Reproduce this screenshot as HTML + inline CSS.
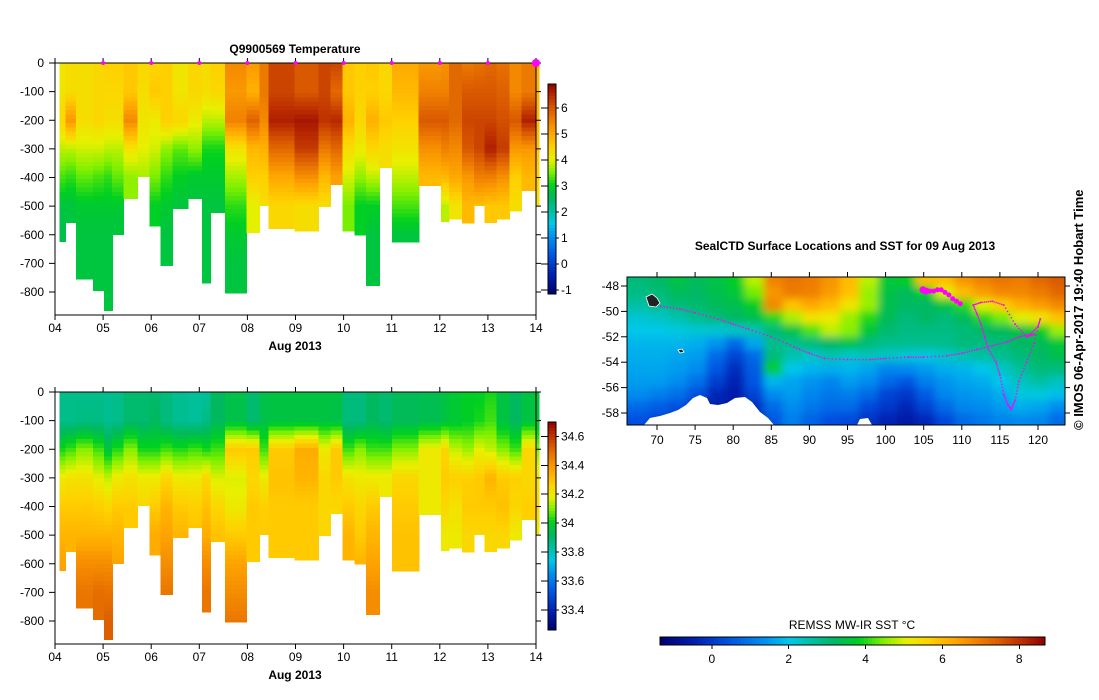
<!DOCTYPE html>
<html><head><meta charset="utf-8">
<style>
html,body{margin:0;padding:0;background:#fff;}
svg{display:block;font-family:"Liberation Sans",sans-serif;}
text{fill:#000;}
</style></head>
<body>
<svg id="s" width="1099" height="700" viewBox="0 0 1099 700" xmlns="http://www.w3.org/2000/svg">
<defs>
<filter id="blur" filterUnits="userSpaceOnUse" x="600" y="250" width="500" height="200"><feGaussianBlur stdDeviation="4"/></filter>
<clipPath id="mapclip"><rect x="627" y="277" width="438" height="148"/></clipPath>
</defs>
<g id="gT"></g>
<g id="gS"></g>
<g id="gM"></g>
</svg>
<script>
// ---- section data ----
const colEdges=[4.09,4.22,4.44,4.79,5.02,5.19,5.42,5.71,5.96,6.19,6.44,6.76,7.06,7.23,7.53,7.98,8.25,8.44,8.98,9.48,9.73,9.98,10.23,10.47,10.74,11.01,11.56,12.02,12.19,12.46,12.71,12.93,13.18,13.45,13.70,14.00,14.06];
const colBottoms=[623,557,755,794,864,599,473,397,569,707,508,473,769,522,803,591,498,578,587,501,424,587,601,777,365,626,428,553,545,559,498,557,545,516,446,498];
const profileDepths=[0,100,200,300,400,500,600,700,800];
const tempProfiles=[
[4.2,4.2,4.4,3.8,3.3,2.8,2.7],[4.3,4.3,5.2,3.8,3.2,2.8],[4.3,4.3,4.3,3.9,3.4,2.9,2.8,2.8],[4.4,4.4,4.4,3.9,3.3,2.9,2.8,2.8],
[4.5,4.4,4.3,3.8,3.2,2.9,2.8,2.8,2.8],[4.5,4.4,4.3,3.8,3.4,2.9,2.8],[4.6,4.6,5.4,4.2,3.6],[4.4,4.3,4.2,4.0,3.7],
[4.4,4.6,4.1,3.9,3.5,3.0],[4.5,4.5,4.5,3.6,3.2,2.9,2.8,2.8],[4.2,4.2,4.4,3.4,3.0,2.8],[4.4,4.4,4.1,3.6,2.9,2.8],
[4.3,4.3,3.8,3.1,2.9,2.8,2.8,2.8],[4.5,4.4,3.8,3.1,2.9,2.8],[5.4,5.2,5.5,4.2,3.7,3.2,2.9,2.8,2.8],[5.2,4.9,5.9,4.8,4.5,4.0],
[5.6,5.6,5.4,4.9,4.5,4.3],[6.2,6.2,6.6,5.8,5.0,4.4],[6.0,6.0,6.7,6.3,5.3,4.3],[6.2,6.2,6.4,5.6,4.8,4.3],
[6.2,5.8,6.5,5.8,5.1],[4.6,4.6,4.9,4.3,3.9,3.5],[4.5,4.5,4.4,4.1,3.6,3.0,3.0],[4.6,4.5,4.9,4.4,3.8,3.0,2.8,2.8],
[4.4,4.4,4.6,4.3],[5.0,4.8,4.5,4.2,3.8,3.3,2.8],[5.2,5.5,6.0,5.3,4.8],[5.3,5.5,6.0,5.5,4.8,3.8],
[5.8,5.8,5.8,5.4,5.0,4.2],[5.6,6.0,6.2,6.0,5.2,4.8],[5.7,6.0,6.2,6.2,5.5,4.7],[5.8,6.0,6.2,6.6,5.5,4.6],
[5.7,5.9,6.1,6.3,5.3,4.6],[5.4,5.4,6.0,5.2,4.5,4.3],[5.6,5.6,6.6,5.2,4.8],[4.8,4.8,4.8,4.6,4.4,4.2]];
const salProfiles=[
[33.86,33.86,34.02,34.2,34.28,34.33,34.37],[33.86,33.86,34.05,34.22,34.28,34.33],[33.86,33.87,34.1,34.22,34.28,34.33,34.42,34.47],[33.86,33.87,34.05,34.18,34.27,34.33,34.42,34.49],
[33.85,33.85,33.97,34.15,34.25,34.33,34.42,34.48,34.52],[33.86,33.86,34.03,34.2,34.28,34.33,34.37],[33.9,33.9,34.1,34.22,34.28],[33.9,33.9,34.02,34.2,34.25],
[33.9,33.92,34.02,34.2,34.28,34.35],[33.88,33.88,34.05,34.25,34.33,34.37,34.42,34.47],[33.85,33.85,34.03,34.2,34.28,34.33],[33.84,33.84,34.05,34.2,34.27,34.3],
[33.84,33.87,34.02,34.25,34.3,34.35,34.42,34.47],[33.92,33.92,34.05,34.17,34.25,34.3],[33.95,33.95,34.28,34.17,34.2,34.28,34.37,34.42,34.47],[33.9,33.9,34.28,34.25,34.28,34.28],
[33.95,33.95,34.05,34.2,34.27,34.28],[33.96,33.96,34.28,34.3,34.28,34.28],[33.96,33.96,34.35,34.33,34.28,34.28],[33.96,33.96,34.2,34.25,34.25,34.25],
[33.96,33.95,34.28,34.28,34.25],[33.88,33.88,34.05,34.22,34.28,34.33],[33.88,33.88,34.1,34.2,34.25,34.28,34.33],[33.92,33.92,34.05,34.2,34.28,34.33,34.37,34.42],
[33.9,33.9,34.05,34.2],[33.93,33.93,34.1,34.25,34.28,34.3,34.3],[33.94,33.94,34.2,34.2,34.2],[33.96,33.96,34.25,34.28,34.25,34.2],
[33.98,33.98,34.15,34.27,34.22,34.2],[34.0,34.0,34.12,34.27,34.28,34.25],[34.0,34.02,34.18,34.28,34.28,34.25],[34.02,34.05,34.15,34.33,34.28,34.25],
[33.96,33.96,34.1,34.28,34.3,34.25],[33.92,33.92,34.05,34.27,34.25,34.2],[33.96,33.96,34.25,34.25,34.27],[33.96,33.96,34.1,34.22,34.25,34.2]];
const dayTicks=[4,5,6,7,8,9,10,11,12,13,14];
const dayLabels=["04","05","06","07","08","09","10","11","12","13","14"];
const depthTicks=[0,-100,-200,-300,-400,-500,-600,-700,-800];
const surfaceDays=[5,6,7,8,9,10,11,12,13,14];
const tempTicks=[6,5,4,3,2,1,0,-1];
const salTicks=[34.6,34.4,34.2,34,33.8,33.6,33.4];
// ---- map data ----
const sstLons=[67.75,70.25,72.75,75.25,77.75,80.25,82.75,85.25,87.75,90.25,92.75,95.25,97.75,100.25,102.75,105.25,107.75,110.25,112.75,115.25,117.75,120.25,122.75];
const sstLats=[-47.5,-48.5,-49.5,-50.5,-51.5,-52.5,-53.5,-54.5,-55.5,-56.5,-57.5,-58.5];
const sstGrid=[
[3.0,3.2,3.5,3.3,3.5,3.8,4.8,6.9,7.1,7.0,6.6,6.0,4.8,3.6,3.8,6.0,6.0,6.6,6.9,7.1,7.0,7.3,7.5],
[2.9,3.0,3.3,3.2,3.4,3.6,4.4,6.6,7.0,6.9,6.5,5.9,4.6,3.5,3.3,3.8,5.0,6.0,6.5,6.8,6.8,7.0,7.3],
[2.6,2.8,3.0,3.1,3.3,3.4,3.8,6.8,5.9,6.3,6.0,5.3,4.6,3.4,3.2,3.2,3.5,4.0,5.0,5.7,6.2,6.5,6.8],
[2.2,2.3,2.5,2.8,3.0,3.2,3.4,4.0,4.7,5.3,5.2,4.6,4.0,3.3,3.0,3.2,3.0,3.3,4.0,4.4,5.0,5.3,5.9],
[2.0,2.0,2.1,2.2,2.2,2.3,2.5,3.0,3.5,4.2,4.8,4.5,3.6,3.1,2.9,2.9,2.9,3.0,3.2,3.3,3.5,3.8,4.6],
[1.8,1.8,1.8,1.7,1.4,0.8,1.6,2.8,2.8,3.0,3.2,3.5,3.0,2.8,2.8,2.8,2.8,3.0,2.9,3.0,3.2,3.3,3.6],
[1.7,1.7,1.6,1.5,0.8,0.2,0.8,3.0,2.5,2.3,2.5,2.3,2.4,2.3,2.2,2.1,2.3,2.5,2.6,2.8,3.0,3.2,3.4],
[1.6,1.6,1.5,1.3,0.5,-0.2,0.6,3.8,2.0,1.8,1.7,1.8,1.6,1.2,1.3,1.5,1.7,1.8,2.0,2.3,2.7,3.0,3.0],
[1.5,1.5,1.3,0.9,0.1,-0.4,0.5,1.8,1.6,1.4,1.2,1.5,1.3,0.8,0.5,1.1,1.4,1.6,1.7,2.0,2.4,2.6,2.4],
[1.3,1.1,0.9,0.4,-0.3,-0.5,0.2,1.3,1.5,1.2,1.0,1.1,0.8,0.2,0.0,0.6,1.2,1.4,1.5,1.7,2.1,2.1,1.9],
[0.8,0.6,0.4,-0.2,-0.5,-0.6,-0.2,0.8,1.3,1.0,0.8,0.8,0.3,0.0,-0.3,0.2,0.8,1.2,1.3,1.5,1.7,1.6,1.3],
[0.4,0.2,0.0,-0.5,-0.7,-0.7,-0.3,0.5,1.1,0.7,0.4,0.3,-0.1,-0.4,-0.6,-0.3,0.3,0.8,1.0,1.2,1.3,1.2,0.8]];
const trackLons=[70.5,73,75,78,80,82,85,88,90,92,95,98,100,103,105,108,110,112,114,116,117.5,119,120,120.3,119.5,118.5,117.5,117,116.5,116,115.5,115,114.5,113.5,113,112.5,112,111.5,112.5,114,115.5,117,118.5,119.5];
const trackLats=[-49.6,-49.8,-50.1,-50.6,-51,-51.4,-52,-52.8,-53.3,-53.7,-53.8,-53.8,-53.7,-53.6,-53.6,-53.5,-53.3,-53,-52.7,-52.4,-52,-51.8,-51.2,-50.6,-52.5,-54,-55.5,-57,-57.7,-57.3,-56.5,-55,-54,-53,-52,-51,-50.2,-49.5,-49.3,-49.2,-49.5,-51,-52,-51.8];
const recentLons=[104.9,105.3,105.8,106.3,106.8,107.3,107.8,108.3,108.8,109.3,109.8];
const recentLats=[-48.3,-48.4,-48.4,-48.4,-48.3,-48.3,-48.5,-48.7,-49.0,-49.2,-49.4];
const latTicks=[-48,-50,-52,-54,-56,-58];
const lonTicks=[70,75,80,85,90,95,100,105,110,115,120];
const sstTicks=[0,2,4,6,8];

// ---- colormap (style) ----
const cmStops=[[0,"#000070"],[0.09,"#0020b0"],[0.175,"#0050e0"],[0.27,"#0090f0"],[0.335,"#00c8e8"],[0.396,"#00c0a0"],[0.457,"#00b860"],[0.518,"#00d020"],[0.58,"#80f000"],[0.64,"#e8f000"],[0.70,"#ffd000"],[0.763,"#ffa800"],[0.825,"#f08000"],[0.886,"#d85800"],[0.947,"#b82800"],[1,"#900000"]];
function hex(h){return [parseInt(h.substr(1,2),16),parseInt(h.substr(3,2),16),parseInt(h.substr(5,2),16)];}
function cmap(t){t=Math.max(0,Math.min(1,t));for(let i=1;i<cmStops.length;i++){if(t<=cmStops[i][0]){const a=cmStops[i-1],b=cmStops[i];const f=(t-a[0])/(b[0]-a[0]);const ca=hex(a[1]),cb=hex(b[1]);return "rgb("+ca.map((v,k)=>Math.round(v+(cb[k]-v)*f)).join(",")+")";}}return "#900000";}
const NS="http://www.w3.org/2000/svg";
function mk(parent,tag,attrs,txt){const e=document.createElementNS(NS,tag);for(const k in attrs)e.setAttribute(k,attrs[k]);if(txt!==undefined)e.textContent=txt;parent.appendChild(e);return e;}
function interp(prof,d){const i=Math.floor(d/100);if(i>=prof.length-1)return prof[prof.length-1];const f=(d-profileDepths[i])/100;return prof[i]+(prof[i+1]-prof[i])*f;}

function section(g,y0,profiles,vmin,vmax,cticks,title,cy0,cy1){
  const xDay=d=>55+(d-4)*48.1;
  const yD=d=>y0+d/800*229;
  const yBot=y0+252;
  const heat=mk(g,"g",{"shape-rendering":"crispEdges"});
  
  
  for(let c=0;c<colBottoms.length;c++){
    const x1=xDay(colEdges[c]),x2=xDay(colEdges[c+1]);
    for(let d=0;d<colBottoms[c];d+=15){
      const d2=Math.min(d+15,colBottoms[c]);
      const v=interp(profiles[c],d+7);
      const r=mk(heat,"rect",{x:x1.toFixed(1),y:yD(d).toFixed(1),width:(x2-x1+0.6).toFixed(1),height:(yD(d2)-yD(d)+0.6).toFixed(1),fill:cmap((v-vmin)/(vmax-vmin))});
      
      
    }
  }
  const frame=mk(g,"rect",{x:55,y:y0,width:481,height:yBot-y0,fill:"none",stroke:"#000","stroke-width":1});
  
  
  if(title){const t=mk(g,"text",{x:295,y:y0-10,"text-anchor":"middle","font-size":12,"font-weight":"bold"},title);
    
    }
  depthTicks.forEach(v=>{const y=yD(-v);
    mk(g,"line",{x1:49,x2:55,y1:y,y2:y,stroke:"#000"});
    mk(g,"line",{x1:536,x2:541,y1:y,y2:y,stroke:"#000"});
    const t=mk(g,"text",{x:44,y:y+4,"text-anchor":"end","font-size":12},String(v));
    
    });
  dayTicks.forEach((d,i)=>{const x=xDay(d);
    mk(g,"line",{x1:x,x2:x,y1:yBot,y2:yBot+5,stroke:"#000"});
    mk(g,"line",{x1:x,x2:x,y1:y0,y2:y0-5,stroke:"#000"});
    const t=mk(g,"text",{x:x,y:yBot+17,"text-anchor":"middle","font-size":12},dayLabels[i]);
    
    });
  const xl=mk(g,"text",{x:295,y:yBot+35,"text-anchor":"middle","font-size":12,"font-weight":"bold"},"Aug 2013");
  
  
  const cb=mk(g,"g",{"shape-rendering":"crispEdges"});
  
  
  const n=70;
  for(let i=0;i<n;i++){const v=vmax-(i+0.5)/n*(vmax-vmin);
    mk(cb,"rect",{x:548,y:(cy0+i*(cy1-cy0)/n).toFixed(1),width:8,height:((cy1-cy0)/n+0.6).toFixed(1),fill:cmap((v-vmin)/(vmax-vmin))});}
  mk(cb,"rect",{x:548,y:cy0,width:8,height:cy1-cy0,fill:"none",stroke:"#000"});
  cticks.forEach(v=>{const y=cy0+(vmax-v)/(vmax-vmin)*(cy1-cy0);
    mk(cb,"line",{x1:541,x2:548,y1:y,y2:y,stroke:"#000"});
    mk(cb,"line",{x1:556,x2:559,y1:y,y2:y,stroke:"#000"});
    const t=mk(cb,"text",{x:561,y:y+4,"font-size":12},String(v));
    
    });
}
section(document.getElementById("gT"),63,tempProfiles,-1.16,6.93,tempTicks,"Q9900569  Temperature",84,294);
section(document.getElementById("gS"),392,salProfiles,33.26,34.70,salTicks,null,422,630);
(function(){const g=document.getElementById("gT");
  surfaceDays.forEach((d,i)=>{const x=55+(d-4)*48.1;const r=(i===surfaceDays.length-1)?4:2;
    const m=mk(g,"circle",{cx:x,cy:63,r:r,fill:"#ff00ff"});
    
    });})();

// ---- map ----
(function(){
  const g=document.getElementById("gM");
  const xL=lon=>657+(lon-70)*7.62;
  const yL=lat=>286+(-48-lat)*12.7;
  const vmin=-1.35,vmax=8.67;
  const t=mk(g,"text",{x:845,y:250,"text-anchor":"middle","font-size":12,"font-weight":"bold"},"SealCTD Surface Locations and SST for 09 Aug 2013");
  
  
  const cl=mk(g,"g",{"clip-path":"url(#mapclip)"});
  const field=mk(cl,"g",{filter:"url(#blur)"});
  
  
  mk(field,"rect",{x:615,y:265,width:465,height:175,fill:cmap((2-vmin)/(vmax-vmin))});
  sstLats.forEach((lat,r)=>sstLons.forEach((lon,c)=>{
    const v=sstGrid[r][c];
    const x1=xL(lon-1.25),x2=xL(lon+1.25),y1=yL(lat+0.5),y2=yL(lat-0.5);
    const e=mk(field,"rect",{x:(c===0?x1-15:x1).toFixed(1),y:(r===0?y1-15:y1).toFixed(1),width:(x2-x1+(c===0||c===sstLons.length-1?15:0)+0.5).toFixed(1),height:(y2-y1+(r===0||r===sstLats.length-1?15:0)+0.5).toFixed(1),fill:cmap((v-vmin)/(vmax-vmin))});
    
    
  }));
  const ice=mk(cl,"path",{fill:"#fff",d:"M644,425 L650,418 L660,416 L670,413 L678,410 L686,405 L693,398 L700,395 L707,398 L710,404 L718,405 L727,403 L735,398 L745,397 L752,402 L760,412 L768,418 L774,425 Z M857,425 L860,419 L868,418 L872,425 Z"});
  
  
  const isl=mk(cl,"path",{fill:"#222",stroke:"#fff","stroke-width":0.8,d:"M646,297 L652,294 L657,298 L660,303 L656,307 L649,306 Z M678,350 L682,349 L684,352 L680,353 Z"});
  
  
  trackLons.forEach((lon,i)=>{const d=mk(cl,"circle",{cx:xL(lon),cy:yL(trackLats[i]),r:1,fill:"#ff00ff"});
    
    
    if(i<trackLons.length-1){const n=6;for(let k=1;k<n;k++){const lo=lon+(trackLons[i+1]-lon)*k/n,la=trackLats[i]+(trackLats[i+1]-trackLats[i])*k/n;
      const dd=mk(cl,"circle",{cx:xL(lo),cy:yL(la),r:0.8,fill:"#ff00ff"});
      
      }}});
  recentLons.forEach((lon,i)=>{const d=mk(cl,"circle",{cx:xL(lon),cy:yL(recentLats[i]),r:i<2?3.5:2.5,fill:"#ff00ff"});
    
    });
  const fr=mk(g,"rect",{x:627,y:277,width:438,height:148,fill:"none",stroke:"#000"});
  
  
  latTicks.forEach(v=>{const y=yL(v);
    mk(g,"line",{x1:621,x2:627,y1:y,y2:y,stroke:"#000"});
    mk(g,"line",{x1:1065,x2:1070,y1:y,y2:y,stroke:"#000"});
    const e=mk(g,"text",{x:619,y:y+4,"text-anchor":"end","font-size":12},String(v));
    
    });
  lonTicks.forEach(v=>{const x=xL(v);
    mk(g,"line",{x1:x,x2:x,y1:425,y2:430,stroke:"#000"});
    mk(g,"line",{x1:x,x2:x,y1:277,y2:272,stroke:"#000"});
    const e=mk(g,"text",{x:x,y:444,"text-anchor":"middle","font-size":12},String(v));
    
    });
  const cr=mk(g,"text",{x:0,y:0,"font-size":13,"font-weight":"bold",transform:"translate(1083,430) rotate(-90)"},"© IMOS 06-Apr-2017 19:40 Hobart Time");
  
  
  const cb=mk(g,"g",{"shape-rendering":"crispEdges"});
  
  
  const cx0=660,cx1=1045,n=100;
  for(let i=0;i<n;i++){const v=vmin+(i+0.5)/n*(vmax-vmin);
    mk(cb,"rect",{x:(cx0+i*(cx1-cx0)/n).toFixed(1),y:637,width:((cx1-cx0)/n+0.6).toFixed(1),height:8,fill:cmap((v-vmin)/(vmax-vmin))});}
  mk(cb,"rect",{x:cx0,y:637,width:cx1-cx0,height:8,fill:"none",stroke:"#000"});
  sstTicks.forEach(v=>{const x=cx0+(v-vmin)/(vmax-vmin)*(cx1-cx0);
    mk(cb,"line",{x1:x,x2:x,y1:645,y2:649,stroke:"#000"});
    const e=mk(cb,"text",{x:x,y:663,"text-anchor":"middle","font-size":12},String(v));
    
    });
  const lab=mk(g,"text",{x:852,y:629,"text-anchor":"middle","font-size":12},"REMSS MW-IR SST °C");
  
  
})();
</script>
</body></html>
